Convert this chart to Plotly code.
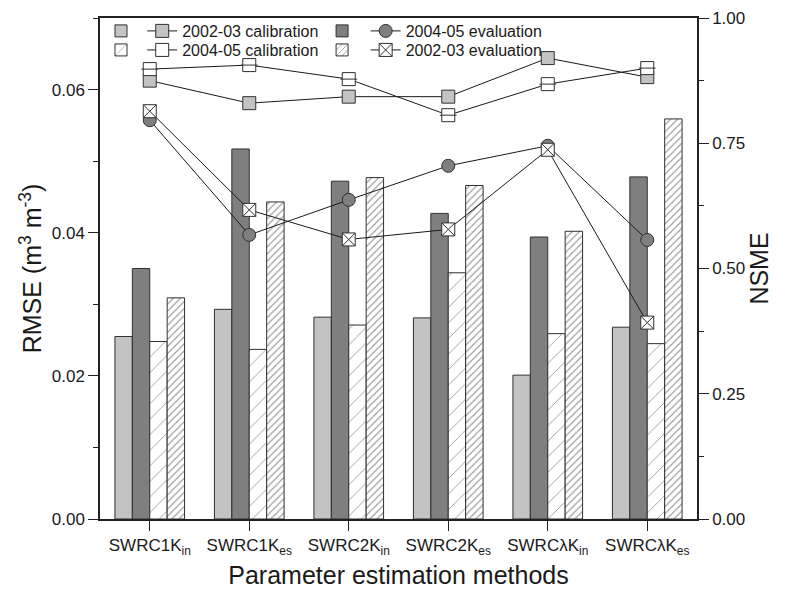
import plotly.graph_objects as go

# Parameter estimation methods (x categories)
methods = ["SWRC1K<sub>in</sub>", "SWRC1K<sub>es</sub>", "SWRC2K<sub>in</sub>",
           "SWRC2K<sub>es</sub>", "SWRCλK<sub>in</sub>", "SWRCλK<sub>es</sub>"]

# RMSE (m3 m-3), bars on the left axis
rmse_cal_0203 = [0.0255, 0.0293, 0.0282, 0.0281, 0.0201, 0.0268]
rmse_eval_0405 = [0.0350, 0.0517, 0.0472, 0.0427, 0.0394, 0.0478]
rmse_cal_0405 = [0.0248, 0.0237, 0.0271, 0.0344, 0.0259, 0.0245]
rmse_eval_0203 = [0.0309, 0.0443, 0.0477, 0.0466, 0.0402, 0.0559]

# NSME, lines on the right axis
nsme_cal_0203 = [0.875, 0.830, 0.843, 0.843, 0.920, 0.882]
nsme_eval_0405 = [0.796, 0.567, 0.637, 0.705, 0.745, 0.557]
nsme_cal_0405 = [0.898, 0.906, 0.878, 0.806, 0.868, 0.900]
nsme_eval_0203 = [0.814, 0.617, 0.558, 0.578, 0.737, 0.392]

LIGHT = "#c3c3c3"
DARK = "#7f7f7f"
EDGE = "#303030"
FONT = "Liberation Sans, Arial, sans-serif"

fig = go.Figure()

def bar(y, fill, legend, pattern=None):
    m = dict(color=fill, line=dict(color=EDGE, width=1))
    if pattern:
        m["pattern"] = pattern
    return go.Bar(x=methods, y=y, name=" ", marker=m, yaxis="y",
                  legend=legend, hoverinfo="y")

def line(y, name, symbol, fill, legend):
    return go.Scatter(x=methods, y=y, name=name, yaxis="y2", mode="lines+markers",
                      line=dict(color="#1a1a1a", width=1),
                      marker=dict(symbol=symbol, size=13, color=fill,
                                  line=dict(color=EDGE, width=1)),
                      legend=legend)

sparse = dict(shape="/", size=11, solidity=0.08, fgcolor="#333",
              bgcolor="white", fillmode="overlay")
dense = dict(shape="/", size=5, solidity=0.22, fgcolor="#333",
             bgcolor="white", fillmode="overlay")

# bars (group order: light, dark, sparse hatch, dense hatch)
fig.add_trace(bar(rmse_cal_0203, LIGHT, "legend"))
fig.add_trace(bar(rmse_eval_0405, DARK, "legend3"))
fig.add_trace(bar(rmse_cal_0405, "white", "legend5", sparse))
fig.add_trace(bar(rmse_eval_0203, "white", "legend7", dense))

# NSME lines
fig.add_trace(line(nsme_cal_0203, "2002-03 calibration", "square", LIGHT, "legend2"))
fig.add_trace(line(nsme_eval_0405, "2004-05 evaluation", "circle", DARK, "legend4"))
fig.add_trace(line(nsme_cal_0405, "2004-05 calibration", "square", "white", "legend6"))
fig.add_trace(line(nsme_eval_0203, "2002-03 evaluation", "square-x", "white", "legend8"))
# horizontal stroke across the open calibration squares
fig.add_trace(go.Scatter(x=methods, y=nsme_cal_0405, yaxis="y2", mode="markers",
                         showlegend=False, hoverinfo="skip",
                         marker=dict(symbol="line-ew", size=12,
                                     line=dict(color=EDGE, width=1))))

tickfont = dict(family=FONT, size=17, color="#1a1a1a")
titlefont = dict(family=FONT, size=25, color="#1a1a1a")
legfont = dict(family=FONT, size=16, color="#1a1a1a")

# legend key grid: two rows, each row = swatch, line key + label, swatch, line key + label
ROW_Y = [1.008, 0.970]
COL_X = [0.0017, 0.0707, 0.372, 0.445]
legends = {}
for i in range(8):
    key = "legend" if i == 0 else f"legend{i + 1}"
    row, col = divmod(i, 4)
    legends[key] = dict(x=COL_X[col], y=ROW_Y[row], xanchor="left", yanchor="top",
                        orientation="h", font=legfont, bgcolor="rgba(0,0,0,0)",
                        itemwidth=30)

fig.update_layout(
    width=788, height=590,
    margin=dict(l=100, r=91, t=18, b=71, autoexpand=False),
    paper_bgcolor="white", plot_bgcolor="white",
    barmode="group", bargap=0.3, bargroupgap=0,
    font=dict(family=FONT, color="#1a1a1a"),
    xaxis=dict(type="category", range=[-0.5, 5.5], showline=True, linecolor="#222",
               linewidth=1.5, mirror=True, ticks="outside", ticklen=10,
               tickcolor="#222", tickfont=tickfont, showgrid=False, automargin=False,
               title=dict(text="Parameter estimation methods", font=titlefont, standoff=10)),
    yaxis=dict(range=[0, 0.07], dtick=0.02, tickformat=".2f", showline=True,
               linecolor="#222", linewidth=1.5, ticks="outside", ticklen=10,
               tickcolor="#222", tickfont=tickfont, showgrid=False, zeroline=False,
               automargin=False,
               minor=dict(dtick=0.01, ticks="outside", ticklen=5, tickcolor="#222"),
               title=dict(text="RMSE (m<sup>3</sup> m<sup>-3</sup>)", font=titlefont,
                          standoff=3)),
    yaxis2=dict(range=[0, 1], dtick=0.25, tickformat=".2f", overlaying="y", side="right",
                showline=True, linecolor="#222", linewidth=1.5, ticks="outside",
                ticklen=10, tickcolor="#222", tickfont=tickfont, showgrid=False,
                zeroline=False, automargin=False,
                minor=dict(dtick=0.125, ticks="outside", ticklen=5, tickcolor="#222"),
                title=dict(text="NSME", font=titlefont, standoff=4)),
    **legends,
)

fig.write_html("out.html")
